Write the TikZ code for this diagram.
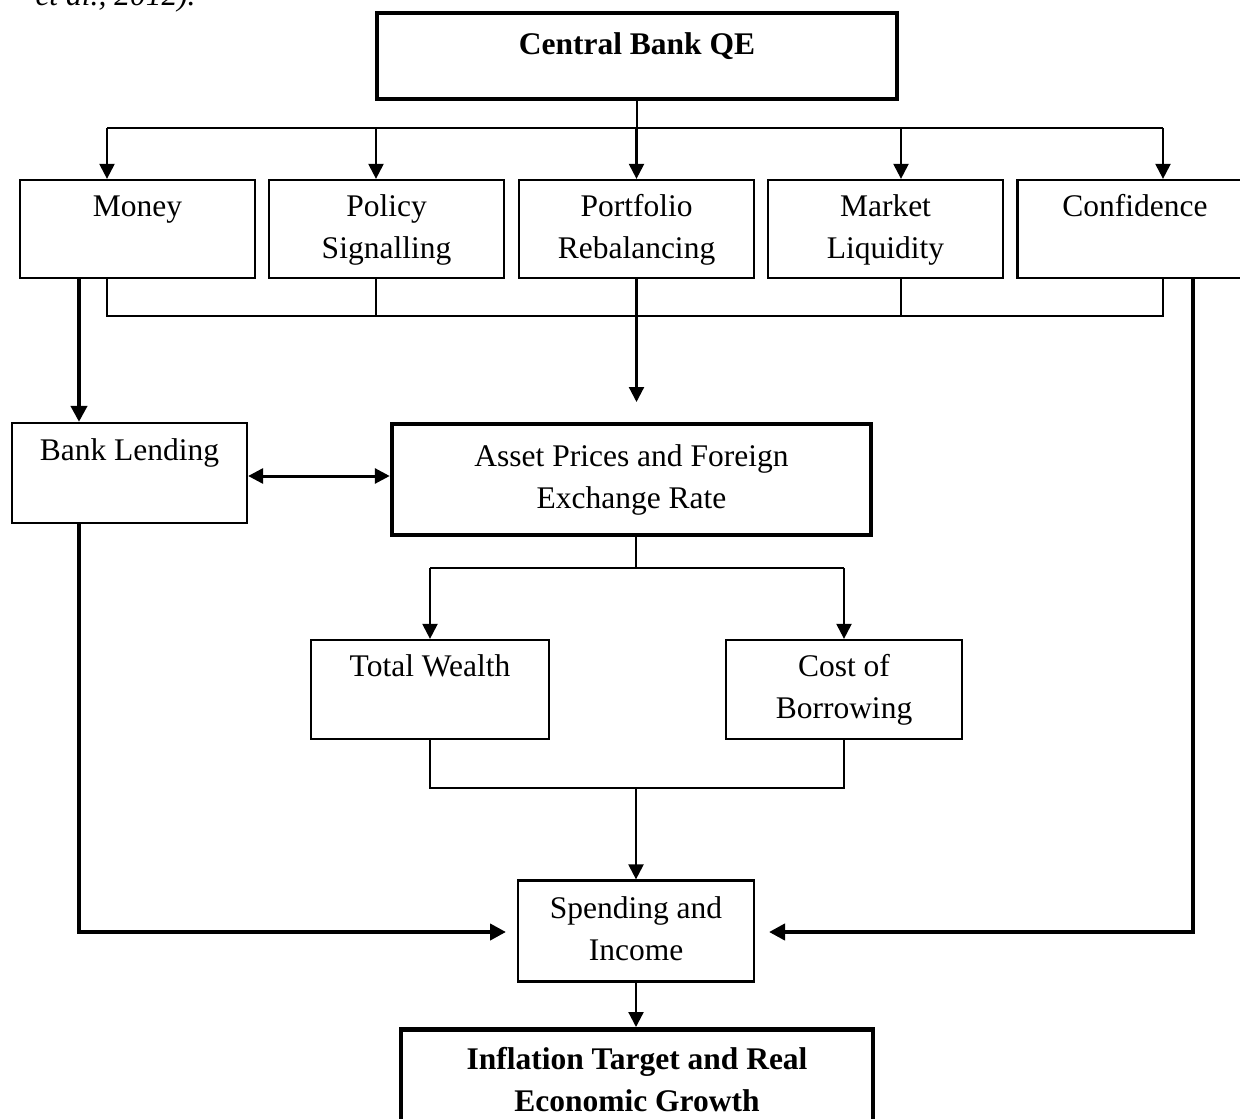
\documentclass[tikz,border=0pt]{standalone}
\usepackage{fontspec}
\setmainfont{Liberation Serif}
\usetikzlibrary{arrows.meta}
\begin{document}
\begin{tikzpicture}[x=0.4pt,y=-0.4pt,
  txt/.style={font=\fontsize{12.6}{16.8}\selectfont},
  box/.style={draw, line width=0.9pt, inner sep=0pt, minimum width=94pt, minimum height=39.2pt, align=center, txt},
  bbox/.style={box, line width=1.8pt},
  ln/.style={line width=0.9pt},
  arr/.style={ln, -{Triangle[width=6pt,length=6pt]}},
  tk/.style={line width=1.6pt},
  tkarr/.style={tk, -{Triangle[width=6.4pt,length=6.4pt]}},
  dbl/.style={line width=1.2pt, {Triangle[width=6pt,length=6pt]}-{Triangle[width=6pt,length=6pt]}},
]
\useasboundingbox (0,0) rectangle (1240,1119);

% cut-off text at top
\node[txt, font=\fontsize{12.6}{16.8}\selectfont\itshape, anchor=base west, inner sep=0pt] (cut) at (35,6) {et al., 2012).};

% boxes
\node[bbox, minimum width=208pt, minimum height=34.4pt] (qe) at (637,56) {};
\node[txt, font=\fontsize{12.6}{16.8}\selectfont\bfseries, anchor=base, inner sep=0pt] (qetext) at (637,55) {Central Bank QE};

\node[box] (money) at (137.5,229) {\strut Money\\\strut};
\node[box] (policy) at (386.5,229) {\strut Policy\\\strut Signalling};
\node[box] (portfolio) at (636.5,229) {\strut Portfolio\\\strut Rebalancing};
\node[box] (market) at (885.5,229) {\strut Market\\\strut Liquidity};
\node[box] (conf) at (1135,229) {\strut Confidence\\\strut};

\node[box, minimum height=40pt] (bank) at (129.5,473) {\strut Bank Lending\\\strut};
\node[bbox, minimum width=191.6pt, minimum height=44.4pt] (asset) at (631.5,479.5) {\strut Asset Prices and Foreign\\\strut Exchange Rate};

\node[box, minimum width=95.2pt, minimum height=39.6pt] (tw) at (430,689.5) {\strut Total Wealth\\\strut};
\node[box, minimum width=94.4pt, minimum height=39.6pt] (cost) at (844,689.5) {\strut Cost of\\\strut Borrowing};

\node[box, minimum width=94.4pt, minimum height=40.4pt] (spend) at (636,931) {\strut Spending and\\\strut Income};

\node[bbox, minimum width=188.8pt, minimum height=52pt, anchor=north] (infl) at (637,1027) {};
\node[txt, font=\fontsize{12.6}{16.8}\selectfont\bfseries, align=center, inner sep=0pt] (infltext) at (637,1081.6) {\strut Inflation Target and Real\\\strut Economic Growth};

% top bus
\coordinate (t1) at (107,128);
\coordinate (t2) at (376,128);
\coordinate (t3) at (636.5,128);
\coordinate (t4) at (901,128);
\coordinate (t5) at (1163,128);
\draw[ln] (qe.south) -- (qe.south |- t3);
\draw[ln] (t1) -- (t5);
\draw[arr] (t1) -- (t1 |- money.north);
\draw[arr] (t2) -- (t2 |- policy.north);
\draw[arr] (t3) -- (t3 |- portfolio.north);
\draw[arr] (t4) -- (t4 |- market.north);
\draw[arr] (t5) -- (t5 |- conf.north);

% bottom bus
\coordinate (b1) at (107,316);
\coordinate (b2) at (376,316);
\coordinate (b4) at (901,316);
\coordinate (b5) at (1163,316);
\draw[ln] (b1 |- money.south) -- (b1) -- (b5) -- (b5 |- conf.south);
\draw[ln] (b2 |- policy.south) -- (b2);
\draw[ln] (b4 |- market.south) -- (b4);
\coordinate (pend) at (636.5,402);
\draw[arr] (portfolio.south) -- (pend);

% money -> bank lending
\coordinate (lx) at (79,0);
\draw[tkarr] (lx |- money.south) -- (lx |- bank.north);
\coordinate (dy) at (0,476);
\draw[dbl] (bank.east |- dy) -- (asset.west |- dy);

% asset -> wealth / cost
\coordinate (m1) at (636,568);
\draw[ln] (asset.south -| m1) -- (m1);
\draw[ln] (tw.north |- m1) -- (cost.north |- m1);
\draw[arr] (tw.north |- m1) -- (tw.north);
\draw[arr] (cost.north |- m1) -- (cost.north);

\coordinate (m2) at (636,788);
\draw[ln] (tw.south) -- (tw.south |- m2) -- (cost.south |- m2) -- (cost.south);
\draw[arr] (m2) -- (m2 |- spend.north);

% side paths to spending
\coordinate (ly) at (0,932);
\coordinate (lend) at (506,932);
\coordinate (rend) at (769,932);
\draw[tkarr] (lx |- bank.south) -- (lx |- ly) -- (lend);
\coordinate (rx) at (1193,0);
\draw[tkarr] (rx |- conf.south) -- (rx |- ly) -- (rend);

\draw[arr] (spend.south) -- (spend.south |- infl.north);
\end{tikzpicture}
\end{document}
